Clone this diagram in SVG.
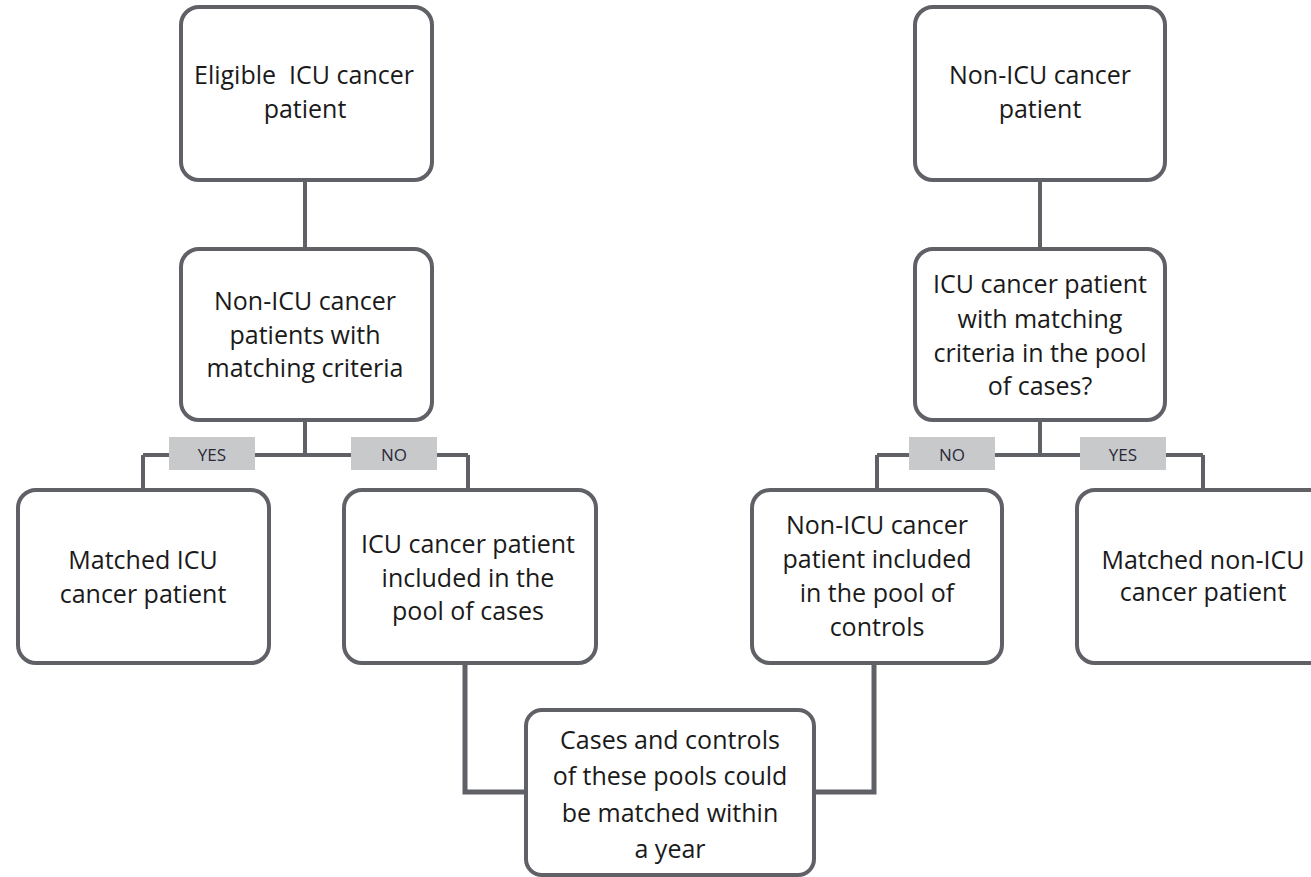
<svg xmlns="http://www.w3.org/2000/svg" width="1311" height="877" viewBox="0 0 1311 877">
<style>
.box{fill:#fff;stroke:#5f6166;stroke-width:4}
.ln{fill:none;stroke:#5f6166;stroke-width:4}
.ln2{fill:none;stroke:#5f6166;stroke-width:5}
.t{font-family:"Open Sans","Liberation Sans",sans-serif;font-size:25px;fill:#1a1a1a;text-anchor:middle;dominant-baseline:central}
.lb{fill:#c8c9cb}
.lt{font-family:"Open Sans","Liberation Sans",sans-serif;font-size:17px;fill:#2a2a3a;text-anchor:middle;dominant-baseline:central}
</style>
<rect width="1311" height="877" fill="#fff"/>
<g id="connectors">
<path class="ln" d="M305 180V249"/>
<path class="ln" d="M305 420V455M143 455H468M143 455V490M468 455V490"/>
<path class="ln" d="M1040 180V249"/>
<path class="ln" d="M1040 420V455M877 455H1203M877 455V490M1203 455V490"/>
<path class="ln2" d="M465 663V792H527"/>
<path class="ln2" d="M874 663V792H813"/>
<rect class="lb" x="169" y="437" width="86" height="33"/>
<text class="lt" x="212" y="454">YES</text>
<rect class="lb" x="351" y="437" width="86" height="33"/>
<text class="lt" x="394" y="454">NO</text>
<rect class="lb" x="909" y="437" width="86" height="33"/>
<text class="lt" x="952" y="454">NO</text>
<rect class="lb" x="1080" y="437" width="86" height="33"/>
<text class="lt" x="1123" y="454">YES</text>
</g>
<g id="n1"><rect class="box" x="181" y="7" width="251" height="173" rx="18"/>
<text class="t" x="304" y="74" xml:space="preserve">Eligible  ICU cancer</text><text class="t" x="305" y="108">patient</text></g>
<g id="n2"><rect class="box" x="181" y="249" width="251" height="171" rx="18"/>
<text class="t" x="305" y="300">Non-ICU cancer</text><text class="t" x="305" y="334">patients with</text><text class="t" x="305" y="367">matching criteria</text></g>
<g id="n3"><rect class="box" x="915" y="7" width="250" height="173" rx="18"/>
<text class="t" x="1040" y="74">Non-ICU cancer</text><text class="t" x="1040" y="108">patient</text></g>
<g id="n4"><rect class="box" x="915" y="249" width="250" height="171" rx="18"/>
<text class="t" x="1040" y="283">ICU cancer patient</text><text class="t" x="1040" y="318">with matching</text><text class="t" x="1040" y="352">criteria in the pool</text><text class="t" x="1040" y="385">of cases?</text></g>
<g id="n5"><rect class="box" x="18" y="490" width="251" height="173" rx="18"/>
<text class="t" x="143" y="559">Matched ICU</text><text class="t" x="143" y="593">cancer patient</text></g>
<g id="n6"><rect class="box" x="344" y="490" width="252" height="173" rx="18"/>
<text class="t" x="468" y="543">ICU cancer patient</text><text class="t" x="468" y="577">included in the</text><text class="t" x="468" y="610">pool of cases</text></g>
<g id="n7"><rect class="box" x="752" y="490" width="250" height="173" rx="18"/>
<text class="t" x="877" y="524">Non-ICU cancer</text><text class="t" x="877" y="558">patient included</text><text class="t" x="877" y="592">in the pool of</text><text class="t" x="877" y="626">controls</text></g>
<g id="n8"><rect class="box" x="1077" y="490" width="260" height="173" rx="18"/>
<text class="t" x="1203" y="559">Matched non-ICU</text><text class="t" x="1203" y="591">cancer patient</text></g>
<g id="n9"><rect class="box" x="526" y="710" width="288" height="165" rx="16"/>
<text class="t" x="670" y="739">Cases and controls</text><text class="t" x="670" y="775">of these pools could</text><text class="t" x="670" y="812">be matched within</text><text class="t" x="670" y="848">a year</text></g>
</svg>
